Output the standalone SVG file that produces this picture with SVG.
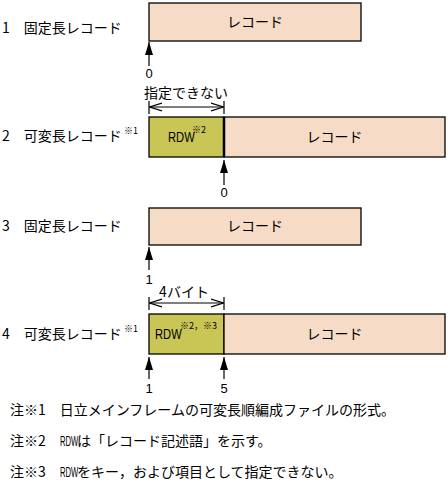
<svg xmlns="http://www.w3.org/2000/svg" width="448" height="498" viewBox="0 0 448 498">
<style>
text{font-family:"Noto Sans CJK JP","DejaVu Sans",sans-serif;font-size:14px;fill:#000}
.num{font-family:"Liberation Sans Narrow","Liberation Sans",sans-serif;font-size:13px}
.r{font-family:"Liberation Sans Narrow","Liberation Sans",sans-serif;font-size:14px}
.sup{font-size:9px}
.rec{fill:#F6DCC6;stroke:#000;stroke-width:1.3}
.rdw{fill:#C9C655;stroke:#000;stroke-width:1.3}
.ln{stroke:#000;stroke-width:1.2;fill:none}
</style>
<defs>
<marker id="ah" markerUnits="userSpaceOnUse" viewBox="0 0 13 8" refX="13" refY="4" markerWidth="13" markerHeight="8" orient="auto"><path d="M0,0 L13,4 L0,8 z" fill="#000"/></marker>
<marker id="oh" markerUnits="userSpaceOnUse" viewBox="0 0 13 10" refX="12.5" refY="5" markerWidth="13" markerHeight="10" orient="auto-start-reverse"><path d="M0,1 L12.5,5 L0,9" fill="none" stroke="#000" stroke-width="1.2"/></marker>
</defs>

<g id="label1"><text x="2" y="33">1　固定長レコード</text></g>
<g id="label2"><text x="2" y="141">2　可変長レコード</text><text class="sup" x="124" y="134">※1</text></g>
<g id="label3"><text x="2" y="231">3　固定長レコード</text></g>
<g id="label4"><text x="2" y="339">4　可変長レコード</text><text class="sup" x="124" y="332">※1</text></g>

<g id="rec1"><rect class="rec" x="149" y="3" width="212" height="38"/><text x="255" y="27" text-anchor="middle">レコード</text></g>

<g id="rdw2"><rect class="rdw" x="149" y="117" width="75" height="40"/><text class="r" transform="translate(168,142) scale(0.8,1)">RDW</text><text class="sup" x="192" y="133">※2</text></g>
<g id="rec2"><rect class="rec" x="224" y="117" width="221" height="40"/><line x1="224" y1="117" x2="224" y2="157" stroke="#000" stroke-width="2.5"/><text x="334.5" y="142" text-anchor="middle">レコード</text></g>

<g id="rec3"><rect class="rec" x="149" y="208" width="212" height="37"/><text x="255" y="231" text-anchor="middle">レコード</text></g>

<g id="rdw4"><rect class="rdw" x="149" y="314" width="75" height="40"/><text class="r" transform="translate(155,339) scale(0.8,1)">RDW</text><text class="sup" x="180" y="329">※2，※3</text></g>
<g id="rec4"><rect class="rec" x="224" y="314" width="221" height="40"/><text x="334.5" y="339" text-anchor="middle">レコード</text></g>

<g id="connectors">
<line class="ln" x1="149" y1="66" x2="149" y2="42" marker-end="url(#ah)"/>
<line class="ln" x1="224" y1="185" x2="224" y2="160" marker-end="url(#ah)"/>
<line class="ln" x1="149" y1="270" x2="149" y2="247" marker-end="url(#ah)"/>
<line class="ln" x1="149" y1="379" x2="149" y2="357" marker-end="url(#ah)"/>
<line class="ln" x1="224" y1="379" x2="224" y2="357" marker-end="url(#ah)"/>
<line class="ln" x1="149" y1="101" x2="149" y2="114"/>
<line class="ln" x1="224" y1="101" x2="224" y2="114"/>
<line class="ln" x1="149.5" y1="107" x2="223.5" y2="107" marker-start="url(#oh)" marker-end="url(#oh)"/>
<line class="ln" x1="149" y1="297" x2="149" y2="310"/>
<line class="ln" x1="224" y1="297" x2="224" y2="310"/>
<line class="ln" x1="149.5" y1="303" x2="223.5" y2="303" marker-start="url(#oh)" marker-end="url(#oh)"/>
</g>

<g id="pos-labels">
<text class="num" x="149" y="78" text-anchor="middle">0</text>
<text x="186" y="98" text-anchor="middle">指定できない</text>
<text class="num" x="224" y="197" text-anchor="middle">0</text>
<text class="num" x="149" y="284" text-anchor="middle">1</text>
<text x="184" y="297" text-anchor="middle">4バイト</text>
<text class="num" x="149" y="393" text-anchor="middle">1</text>
<text class="num" x="224" y="393" text-anchor="middle">5</text>
</g>

<g id="notes">
<text x="10" y="415">注※1　日立メインフレームの可変長順編成ファイルの形式。</text>
<text x="10" y="446">注※2</text><text class="r" transform="translate(60,446) scale(0.55,1)">RDW</text><text x="77" y="446">は「レコード記述語」を示す。</text>
<text x="10" y="477">注※3</text><text class="r" transform="translate(60,477) scale(0.55,1)">RDW</text><text x="77" y="477">をキー，および項目として指定できない。</text>
</g>
</svg>
